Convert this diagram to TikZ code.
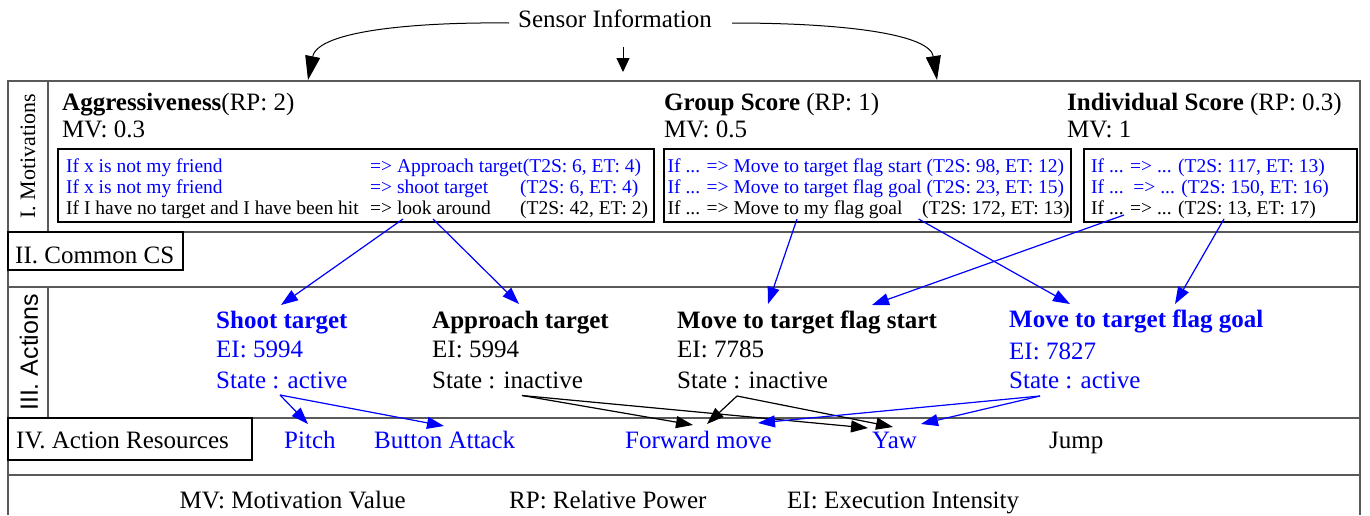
\documentclass[tikz,border=0pt]{standalone}
\usepackage{fontspec}
\setmainfont{Liberation Serif}
\newfontfamily\lsans{Liberation Sans}
\usetikzlibrary{arrows.meta}
\definecolor{pblue}{RGB}{0,0,255}
\begin{document}
\begin{tikzpicture}[x=1pt,y=-1pt,
  txt/.style={inner sep=0pt, anchor=base west, font=\fontsize{25}{30}\selectfont},
  btxt/.style={inner sep=0pt, anchor=base west, font=\fontsize{25}{30}\selectfont\bfseries},
  stxt/.style={inner sep=0pt, anchor=base west, font=\fontsize{19.5}{23}\selectfont},
  frame/.style={draw=black!65, line width=1.6pt},
  box/.style={draw=black, line width=1.1pt},
  arr/.style={line width=1.2pt, -{Triangle[length=17pt,width=12pt]}},
  barr/.style={arr, draw=pblue, fill=pblue},
  karr/.style={arr, draw=black, fill=black},
  sarr/.style={line width=1pt, -{Triangle[length=24pt,width=15pt]}},
  marr/.style={line width=1pt, -{Triangle[length=14pt,width=13pt]}},
]
\useasboundingbox (0,0) rectangle (1370,515);

% frame
\draw[frame] (8,515) -- (8,81) -- (1360,81) -- (1360,515);
\draw[frame] (8,232) -- (1360,232);
\draw[frame] (8,287) -- (1360,287);
\draw[frame] (8,418) -- (1360,418);
\draw[frame] (8,475) -- (1360,475);
\draw[frame] (48,81) -- (48,232);
\draw[frame] (48,287) -- (48,418);

% row labels
\node[rotate=90, inner sep=0pt, font=\fontsize{22}{26}\selectfont] (motlab) at (28,156.5) {I. Motivations};
\node[rotate=90, inner sep=0pt, font=\lsans\fontsize{25}{30}\selectfont] (actlab) at (29,352.5) {III. Actions};
\draw[box] (8,232) rectangle (183,270);
\node[txt] (cslab) at (15,263) {II. Common CS};
\draw[box] (8,418) rectangle (252,460);
\node[txt] (arlab) at (16,448.5) {IV. Action Resources};

% sensor
\node[txt] (sensor) at (518,27) {Sensor Information};
\coordinate (sL) at (509,23);
\coordinate (sR) at (732,23);
\coordinate (sM) at (623,47);
\coordinate (tL) at (308,80);
\coordinate (tR) at (937,80);
\coordinate (tM) at (623,72);
\draw[sarr] (sL) .. controls (420,22) and (318,30) .. (tL);
\draw[sarr] (sR) .. controls (850,23) and (930,35) .. (tR);
\draw[marr] (sM) -- (tM);

% motivations
\node[txt] (agg) at (62,110) {\textbf{Aggressiveness}(RP: 2)};
\node[txt] (aggmv) at (62,137) {MV: 0.3};
\node[txt] (grp) at (664,110) {\textbf{Group Score} (RP: 1)};
\node[txt] (grpmv) at (664,137) {MV: 0.5};
\node[txt] (ind) at (1067,110) {\textbf{Individual Score} (RP: 0.3)};
\node[txt] (indmv) at (1067,137) {MV: 1};

\draw[box] (58,149) rectangle (654,222);
\draw[box] (664,149) rectangle (1071,222);
\draw[box] (1084,149) rectangle (1357,222);

\node[stxt, text=pblue] (a1l) at (66,172) {If x is not my friend};
\node[stxt, text=pblue] (a1r) at (370,172) {=> Approach target(T2S: 6, ET: 4)};
\node[stxt, text=pblue] (a2l) at (66,193) {If x is not my friend};
\node[stxt, text=pblue] (a2m) at (370,193) {=> shoot target};
\node[stxt, text=pblue] (a2r) at (520,193) {(T2S: 6, ET: 4)};
\node[stxt] (a3l) at (66,214) {If I have no target and I have been hit};
\node[stxt] (a3m) at (370,214) {=> look around};
\node[stxt] (a3r) at (520,214) {(T2S: 42, ET: 2)};

\node[stxt, text=pblue] (g1) at (667.5,172) {If ... => Move to target flag start (T2S: 98, ET: 12)};
\node[stxt, text=pblue] (g2) at (667.5,193) {If ... => Move to target flag goal (T2S: 23, ET: 15)};
\node[stxt] (g3l) at (667.5,214) {If ... => Move to my flag goal};
\node[stxt] (g3r) at (922,214) {(T2S: 172, ET: 13)};

\node[stxt, text=pblue] (i1) at (1091,172) {If ... => ... (T2S: 117, ET: 13)};
\node[stxt, text=pblue] (i2) at (1091,193) {If ...\ \ => ... (T2S: 150, ET: 16)};
\node[stxt] (i3) at (1091,214) {If ... => ... (T2S: 13, ET: 17)};

% actions
\node[btxt, text=pblue] (shoot) at (216,328) {Shoot target};
\node[txt, text=pblue] (shootei) at (216,357) {EI: 5994};
\node[txt, text=pblue] (shootst) at (216,388) {State : active};
\node[btxt] (appr) at (432,328) {Approach target};
\node[txt] (apprei) at (432,357) {EI: 5994};
\node[txt] (apprst) at (432,388) {State : inactive};
\node[btxt] (mstart) at (677,328) {Move to target flag start};
\node[txt] (mstartei) at (677,357) {EI: 7785};
\node[txt] (mstartst) at (677,388) {State : inactive};
\node[btxt, text=pblue] (mgoal) at (1009,327) {Move to target flag goal};
\node[txt, text=pblue] (mgoalei) at (1009,359) {EI: 7827};
\node[txt, text=pblue] (mgoalst) at (1009,388) {State : active};

% resources
\node[txt, text=pblue] (pitch) at (284,448.5) {Pitch};
\node[txt, text=pblue] (button) at (374,448.5) {Button Attack};
\node[txt, text=pblue] (fwd) at (625,448.5) {Forward move};
\node[txt, text=pblue] (yaw) at (872,448.5) {Yaw};
\node[txt] (jump) at (1049,448.5) {Jump};

% legend
\node[txt] (lmv) at (179.5,508.5) {MV: Motivation Value};
\node[txt] (lrp) at (509,508.5) {RP: Relative Power};
\node[txt] (lei) at (787,508.5) {EI: Execution Intensity};

% motivation -> action connectors
\coordinate (lookA) at (403,219);
\coordinate (lookB) at (433,219);
\coordinate (myflag) at (797,219);
\coordinate (grpgoal) at (918.6,219);
\coordinate (indA) at (1124,215);
\coordinate (indB) at (1224,219);
\coordinate (shootT) at (281,305);
\coordinate (apprT) at (519,304);
\coordinate (mstartT1) at (768,304);
\coordinate (mstartT2) at (872,305);
\coordinate (mgoalT1) at (1070,304);
\coordinate (mgoalT2) at (1175,304);
\draw[barr] (lookA) -- (shootT);
\draw[barr] (lookB) -- (apprT);
\draw[barr] (myflag) -- (mstartT1);
\draw[barr] (grpgoal) -- (mgoalT1);
\draw[barr] (indA) -- (mstartT2);
\draw[barr] (indB) -- (mgoalT2);

% action -> resource connectors
\coordinate (shootS) at (280,395);
\coordinate (apprS) at (522,395.5);
\coordinate (mstartS) at (737,396);
\coordinate (mgoalS) at (1040,396);
\coordinate (pitchT) at (308,424);
\coordinate (buttonT) at (444,426);
\coordinate (fwdT1) at (693,425);
\coordinate (fwdT2) at (707,424);
\coordinate (fwdT3) at (758,423);
\coordinate (yawT1) at (868,428);
\coordinate (yawT2) at (893,427);
\coordinate (yawT3) at (921,424);
\draw[barr] (shootS) -- (pitchT);
\draw[barr] (shootS) -- (buttonT);
\draw[karr] (apprS) -- (fwdT1);
\draw[karr] (apprS) -- (yawT1);
\draw[karr] (mstartS) -- (fwdT2);
\draw[karr] (mstartS) -- (yawT2);
\draw[barr] (mgoalS) -- (fwdT3);
\draw[barr] (mgoalS) -- (yawT3);
\end{tikzpicture}
\end{document}
